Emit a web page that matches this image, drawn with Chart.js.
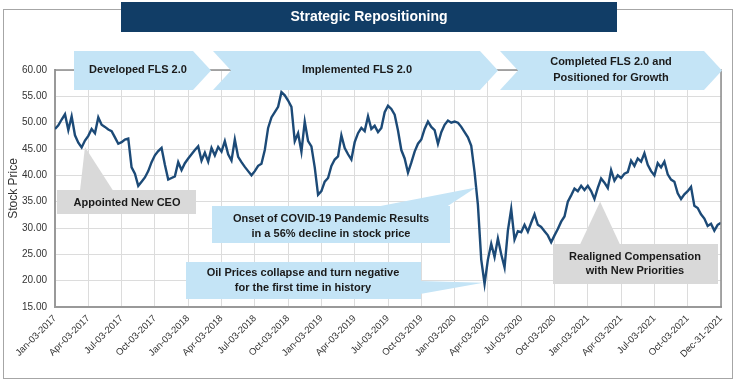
<!DOCTYPE html>
<html><head><meta charset="utf-8">
<script src="https://cdn.jsdelivr.net/npm/chart.js@4/dist/chart.umd.min.js"></script>
<style>html,body{margin:0;padding:0;background:#fff;}#wrap{width:740px;height:383px;position:relative;}</style>
</head><body><div id="wrap"><canvas id="c" width="740" height="383"></canvas></div>
<script>
// ---- data ----
const quarterLabels = ["Jan-03-2017","Apr-03-2017","Jul-03-2017","Oct-03-2017","Jan-03-2018","Apr-03-2018","Jul-03-2018","Oct-03-2018","Jan-03-2019","Apr-03-2019","Jul-03-2019","Oct-03-2019","Jan-03-2020","Apr-03-2020","Jul-03-2020","Oct-03-2020","Jan-03-2021","Apr-03-2021","Jul-03-2021","Oct-03-2021","Dec-31-2021"];
const pointsPerQuarter = 10;
const price2017 = [48.8,49.5,50.6,51.6,48.6,51.2,47.6,46.2,45.3,46.6,
                   47.5,48.8,48.0,51.0,49.6,49.2,48.7,48.4,47.2,46.0,
                   46.3,46.8,47.0,41.5,40.3,38.0,38.8,39.6,40.8,42.5,
                   43.8,44.6,45.2,42.0,39.2,39.5,39.8,42.5,41.0,42.3];
const price2018 = [43.2,44.0,44.8,45.5,42.8,44.3,42.6,45.2,43.8,45.4,
                   44.5,46.5,44.0,42.8,46.8,43.5,42.5,41.6,40.8,40.0,
                   40.8,41.8,42.2,44.8,49.0,51.0,52.0,53.0,55.8,55.2,
                   54.2,53.0,46.5,48.0,44.5,50.2,46.5,45.5,41.5,36.3];
const price2019 = [37.0,38.8,39.5,41.8,43.0,43.6,47.6,45.2,44.0,43.0,
                   46.3,48.0,49.0,48.4,51.2,48.8,49.4,48.2,49.0,52.0,
                   53.2,52.6,51.5,48.5,44.8,43.2,40.5,42.4,44.5,46.0,
                   46.8,48.8,50.2,49.2,48.6,46.0,48.2,49.6,50.4,50.0];
const price2020 = [50.2,50.0,49.2,48.2,47.2,45.6,40.6,34.4,24.0,19.4,
                   24.0,27.0,24.5,28.0,25.0,22.5,29.5,33.6,27.8,29.4,
                   29.2,30.6,29.3,31.0,32.6,30.6,30.2,29.4,28.6,27.3,
                   28.6,29.8,31.2,32.2,35.0,36.2,37.5,37.0,38.0,37.2];
const price2021 = [38.0,37.0,35.5,37.6,39.4,38.6,37.6,41.0,39.0,40.0,
                   39.5,40.3,40.6,42.8,41.8,43.2,42.6,44.2,42.0,40.8,
                   40.0,42.3,41.5,42.6,40.2,39.2,38.8,36.6,35.5,36.4,
                   37.0,37.8,34.2,33.8,32.6,31.8,30.4,30.8,29.5,30.6,31.0];
const yTicks = [15,20,25,30,35,40,45,50,55,60];
const chartTitle = "Strategic Repositioning";
const phaseTexts = [["Developed FLS 2.0"],["Implemented FLS 2.0"],["Completed FLS 2.0 and","Positioned for Growth"]];
const calloutTexts = {
  ceo: ["Appointed New CEO"],
  covid: ["Onset of COVID-19 Pandemic Results","in a 56% decline in stock price"],
  oil: ["Oil Prices collapse and turn negative","for the first time in history"],
  comp: ["Realigned Compensation","with New Priorities"]
};
// callout pointer targets in data units (quarter index, price)
const calloutTargets = { ceo:[0.9,45.4], covid:[12.64,37.7], oil:[12.86,19.6], comp:[16.37,35.0] };

const prices = [].concat(price2017, price2018, price2019, price2020, price2021);
const points = prices.map((p,i)=>({x:i/pointsPerQuarter, y:p}));

const FONT = "'Liberation Sans', Arial, sans-serif";
const BLUE = '#c4e4f6';
const GRAY = '#d9d9d9';
const TXT = '#1a1a1a';

const decor = {
  id:'decor',
  beforeDraw(chart){
    const ctx = chart.ctx;
    ctx.save();
    ctx.fillStyle='#fff'; ctx.fillRect(0,0,740,383);
    ctx.strokeStyle='#a6a6a6'; ctx.lineWidth=1;
    ctx.strokeRect(3.5,9.5,729,369);
    ctx.restore();
  },
  afterDraw(chart){
    const ctx = chart.ctx, a = chart.chartArea;
    const xs = chart.scales.x, ys = chart.scales.y;
    ctx.save();
    // plot border top/right
    ctx.strokeStyle='#8c8c8c'; ctx.lineWidth=1.5;
    ctx.beginPath(); ctx.moveTo(a.left,a.top); ctx.lineTo(a.right,a.top); ctx.lineTo(a.right,a.bottom); ctx.stroke();
    // title bar
    ctx.fillStyle='#113d66'; ctx.fillRect(121,2,496,30);
    ctx.fillStyle='#fff'; ctx.font='bold 14px '+FONT; ctx.textAlign='center'; ctx.textBaseline='middle';
    ctx.fillText(chartTitle,369,17);
    // phase chevrons
    const top=51, bot=90, mid=70.5;
    const shapes = [
      [[74,top],[193,top],[211,mid],[193,bot],[74,bot]],
      [[213,top],[480,top],[498,mid],[480,bot],[213,bot],[231,mid]],
      [[500,top],[704,top],[722,mid],[704,bot],[500,bot],[518,mid]]
    ];
    ctx.fillStyle=BLUE;
    shapes.forEach(s=>{ctx.beginPath(); s.forEach((p,i)=>i?ctx.lineTo(p[0],p[1]):ctx.moveTo(p[0],p[1])); ctx.closePath(); ctx.fill();});
    ctx.fillStyle=TXT; ctx.font='bold 11px '+FONT;
    ctx.fillText(phaseTexts[0][0],138,70);
    ctx.fillText(phaseTexts[1][0],357,70);
    ctx.fillText(phaseTexts[2][0],611,62);
    ctx.fillText(phaseTexts[2][1],611,78);
    // callouts
    function tip(k){return [xs.getPixelForValue(calloutTargets[k][0]), ys.getPixelForValue(calloutTargets[k][1])];}
    function callout(fill, box, b1, b2, t, lines, cx, ly){
      ctx.fillStyle=fill;
      ctx.beginPath(); ctx.moveTo(b1[0],b1[1]); ctx.lineTo(b2[0],b2[1]); ctx.lineTo(t[0],t[1]); ctx.closePath(); ctx.fill();
      ctx.fillRect(box[0],box[1],box[2],box[3]);
      ctx.fillStyle=TXT; ctx.font='bold 11px '+FONT; ctx.textAlign='center'; ctx.textBaseline='middle';
      lines.forEach((l,i)=>ctx.fillText(l,cx,ly[i]));
    }
    callout(GRAY,[57,190,139,24],[80,190.5],[113,190.5],tip('ceo'),calloutTexts.ceo,127,[202.5]);
    callout(BLUE,[212,206,238,37],[378,206.5],[447,206.5],tip('covid'),calloutTexts.covid,331,[219,234]);
    callout(BLUE,[186,262,235,37],[395,298.5],[420,281],tip('oil'),calloutTexts.oil,303,[273,288]);
    callout(GRAY,[553,244,165,40],[580,244.5],[620,244.5],tip('comp'),calloutTexts.comp,635,[257,271]);
    ctx.restore();
  }
};

new Chart(document.getElementById('c'),{
  type:'line',
  data:{datasets:[{data:points,borderColor:'#1c4a77',borderWidth:2.4,pointRadius:0,tension:0,fill:false}]},
  options:{
    responsive:false, animation:false, devicePixelRatio:1,
    layout:{padding:{left:6,top:70,right:19,bottom:0}},
    plugins:{legend:{display:false},tooltip:{enabled:false}},
    scales:{
      x:{type:'linear',min:0,max:20,
        afterBuildTicks(s){s.ticks=quarterLabels.map((_,i)=>({value:i}));},
        afterFit(s){s.height=76;},
        grid:{color:'#dcdcdc',lineWidth:1,drawTicks:false},
        border:{color:'#999',width:2},
        ticks:{autoSkip:false,minRotation:45,maxRotation:45,padding:6,color:'#333',font:{family:FONT,size:9.5},
          callback:(v)=>quarterLabels[Math.round(v)]}},
      y:{min:15,max:60,
        afterBuildTicks(s){s.ticks=yTicks.map(v=>({value:v}));},
        afterFit(s){s.width=49;},
        grid:{color:'#dcdcdc',lineWidth:1,drawTicks:false},
        border:{color:'#999',width:2},
        title:{display:true,text:'Stock Price',color:'#333',font:{family:FONT,size:12},padding:{top:0,bottom:2}},
        ticks:{padding:8,color:'#333',font:{family:FONT,size:10},callback:(v)=>Number(v).toFixed(2)}}
    }
  },
  plugins:[decor]
});
</script></body></html>
